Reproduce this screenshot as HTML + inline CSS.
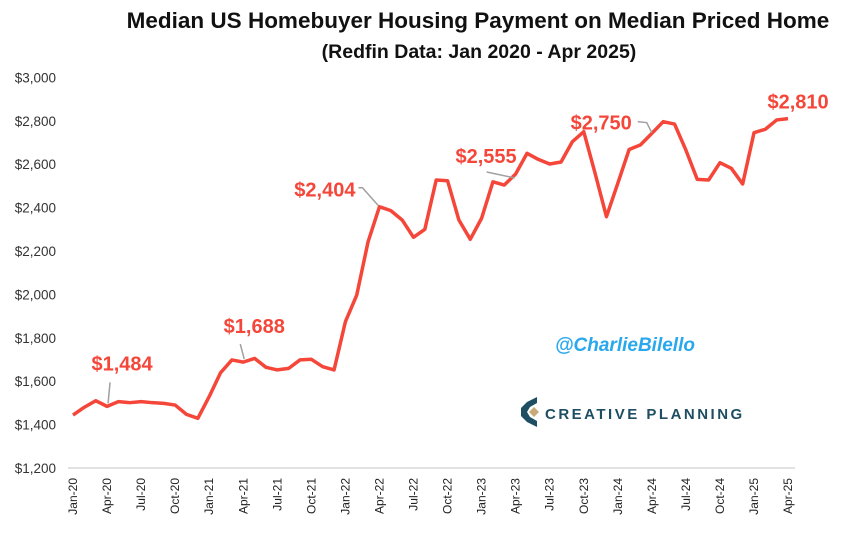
<!DOCTYPE html>
<html><head><meta charset="utf-8"><style>
body{margin:0;background:#fff;}
svg{display:block;font-family:"Liberation Sans",sans-serif;}
</style></head><body>
<svg id="chart" width="850" height="536" viewBox="0 0 850 536">
<text x="478" y="28" text-anchor="middle" font-size="22.5" font-weight="bold" fill="#111">Median US Homebuyer Housing Payment on Median Priced Home</text>
<text x="479" y="58" text-anchor="middle" font-size="19.5" font-weight="bold" fill="#111">(Redfin Data: Jan 2020 - Apr 2025)</text>
<g id="yaxis"></g>
<g id="xaxis"></g>
<line x1="68" y1="468" x2="795" y2="468" stroke="#d9d9d9" stroke-width="1.5"/>
<g id="series"></g>
<g id="annots"></g>
<text x="625" y="351" text-anchor="middle" font-size="19" font-style="italic" font-weight="bold" fill="#2aa8ee">@CharlieBilello</text>
<g>
<path d="M537 397 L527 402 L521 408 L521 416 L527 422 L537 427 L537 421 L530 417 L527 412 L530 407 L537 403 Z" fill="#1f4e63"/>
<path d="M534 407 L539 412 L534 417 L529 412 Z" fill="#c7a97a"/>
<text x="545" y="419" font-size="15" font-weight="bold" fill="#1f4e63" letter-spacing="2.5">CREATIVE PLANNING</text>
</g>
</svg>
<script>
const months=["Jan","Feb","Mar","Apr","May","Jun","Jul","Aug","Sep","Oct","Nov","Dec"];
const values=[1444,1480,1510,1484,1506,1501,1506,1501,1498,1490,1447,1429,1529,1639,1698,1688,1705,1664,1652,1659,1698,1701,1667,1652,1874,1997,2243,2404,2386,2343,2263,2300,2527,2524,2343,2254,2351,2519,2504,2555,2650,2622,2601,2610,2704,2750,2558,2358,2512,2668,2689,2742,2796,2785,2665,2530,2527,2607,2581,2509,2745,2761,2804,2810];
const yTicks=[1200,1400,1600,1800,2000,2200,2400,2600,2800,3000];
const annotIdx=[3,15,27,39,45,63];
const annotText=["$1,484","$1,688","$2,404","$2,555","$2,750","$2,810"];
const NS="http://www.w3.org/2000/svg";
const x=i=>73+i*11.35;
const y=v=>468-(v-1200)*0.217;
function mk(t,a,p){const e=document.createElementNS(NS,t);for(const k in a)e.setAttribute(k,a[k]);p.appendChild(e);return e;}
const ya=document.getElementById('yaxis');
yTicks.forEach(v=>{const t=mk('text',{x:56,y:y(v)+5,'text-anchor':'end','font-size':13.5,fill:'#333'},ya);


t.textContent='$'+v.toLocaleString('en-US');});
const xa=document.getElementById('xaxis');
for(let i=0;i<values.length;i+=3){const lab=months[i%12]+'-'+String(20+Math.floor(i/12));
const t=mk('text',{transform:`translate(${x(i)+4},478) rotate(-90)`,'text-anchor':'end','font-size':12,fill:'#222'},xa);


t.textContent=lab;}
const s=document.getElementById('series');
const p=mk('polyline',{points:values.map((v,i)=>x(i)+','+y(v)).join(' '),fill:'none',stroke:'#f5463a','stroke-width':3.5,'stroke-linejoin':'round'},s);


const an=document.getElementById('annots');
// label offsets [dx, dy, anchor] relative to data point; leader offsets relative to point
const offs=[[15,-36,'middle'],[11,-29,'middle'],[-24,-10,'end'],[1,-11,'end'],[48,-2,'end'],[10,-10,'middle']];
const leaders=[[[1,-3],[3,-24]],[[1,-3],[-3,-18]],[[-1,-1],[-17,-19],[-21,-19]],[[-1,4],[-29,-2]],[[68,1],[63,-9],[54,-10]],null];
annotIdx.forEach((idx,k)=>{const px=x(idx),py=y(values[idx]);const o=offs[k];
if(leaders[k]){const l=mk('polyline',{points:leaders[k].map(d=>(px+d[0])+','+(py+d[1])).join(' '),fill:'none',stroke:'#a0a0a0','stroke-width':1.5},an);

}
const t=mk('text',{x:px+o[0],y:py+o[1],'text-anchor':o[2],'font-size':20,'font-weight':'bold',fill:'#f5463a'},an);


t.textContent=annotText[k];});
</script>
</body></html>
